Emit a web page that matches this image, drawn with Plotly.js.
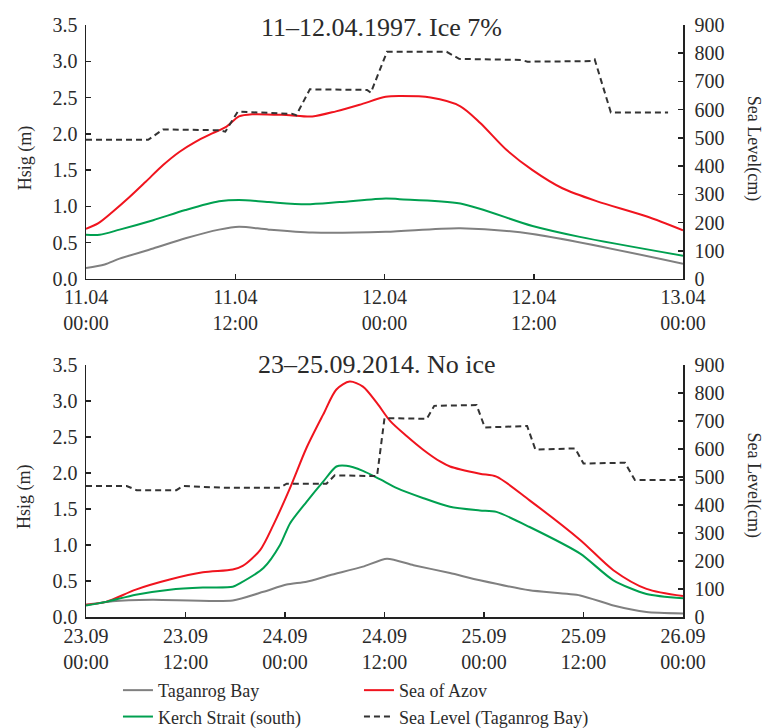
<!DOCTYPE html>
<html><head><meta charset="utf-8">
<script src="https://cdn.plot.ly/plotly-3.0.1.min.js"></script>
<style>html,body{margin:0;padding:0;background:#fff}#chart{width:766px;height:728px}</style>
</head><body><div id="chart"></div>
<script>
// ---------- Panel 1: 11–12.04.1997 (hours from 11.04 00:00) ----------
const p1TickVals = [0, 12, 24, 36, 48];
const p1TickText = ['11.04<br>00:00', '11.04<br>12:00', '12.04<br>00:00', '12.04<br>12:00', '13.04<br>00:00'];

const p1AzovHours = [0, 1.0, 2.1, 3.5, 4.8, 6.2, 7.5, 8.8, 10.2, 11.3, 12.3, 13.4, 16.1, 18.2, 20.1, 22.0, 24.1, 25.2, 27.7, 30.1, 31.7, 33.8, 35.9, 38.3, 41.1, 45.1, 48];
const p1Azov      = [0.69, 0.77, 0.92, 1.13, 1.34, 1.57, 1.75, 1.89, 2.01, 2.10, 2.24, 2.27, 2.26, 2.24, 2.31, 2.40, 2.51, 2.52, 2.50, 2.38, 2.15, 1.78, 1.50, 1.25, 1.07, 0.86, 0.67];

const p1KerchHours = [0, 1.1, 2.7, 5.4, 8.0, 10.7, 12.3, 14.7, 17.7, 20.4, 24.1, 25.2, 30.1, 35.9, 39.7, 48];
const p1Kerch      = [0.61, 0.61, 0.68, 0.81, 0.95, 1.07, 1.09, 1.06, 1.03, 1.06, 1.11, 1.10, 1.04, 0.73, 0.58, 0.32];

const p1TaganHours = [0, 1.5, 2.7, 5.4, 8.0, 10.7, 12.3, 14.7, 18.2, 24.1, 30.1, 35.9, 48];
const p1Tagan      = [0.15, 0.20, 0.28, 0.42, 0.56, 0.68, 0.72, 0.68, 0.64, 0.65, 0.70, 0.62, 0.21];

const p1LevelHours = [0, 5.0, 6.2, 10.7, 11.2, 12.2, 16.6, 16.9, 18.0, 22.6, 22.9, 24.2, 29.0, 30.0, 35.0, 35.5, 40.6, 40.9, 42.2, 46.8];
const p1Level      = [493, 493, 530, 527, 522, 593, 585, 580, 672, 670, 660, 805, 805, 780, 776, 770, 772, 778, 590, 590];

// ---------- Panel 2: 23–25.09.2014 (hours from 23.09 00:00) ----------
const p2TickVals = [0, 12, 24, 36, 48, 60, 72];
const p2TickText = ['23.09<br>00:00', '23.09<br>12:00', '24.09<br>00:00', '24.09<br>12:00', '25.09<br>00:00', '25.09<br>12:00', '26.09<br>00:00'];

const p2AzovHours = [0, 2.4, 6.0, 10.1, 14.1, 17.7, 18.9, 21.0, 22.6, 24.6, 26.6, 28.6, 30.2, 31.8, 33.4, 35.1, 36.7, 38.7, 40.7, 42.7, 43.9, 47.5, 49.5, 53.5, 59.6, 63.6, 67.6, 72];
const p2Azov      = [0.17, 0.21, 0.38, 0.52, 0.62, 0.66, 0.71, 0.93, 1.28, 1.79, 2.35, 2.81, 3.16, 3.27, 3.20, 2.97, 2.72, 2.51, 2.32, 2.16, 2.09, 1.99, 1.95, 1.62, 1.07, 0.65, 0.39, 0.29];

const p2KerchHours = [0, 2.4, 6.0, 10.1, 14.1, 17.7, 18.6, 21.4, 23.4, 24.6, 26.6, 28.6, 30.2, 31.4, 33.4, 35.5, 37.5, 40.7, 43.9, 47.5, 49.5, 53.5, 59.6, 63.6, 67.6, 72];
const p2Kerch      = [0.16, 0.21, 0.31, 0.38, 0.41, 0.42, 0.47, 0.68, 1.00, 1.30, 1.60, 1.88, 2.09, 2.10, 2.03, 1.91, 1.79, 1.65, 1.53, 1.48, 1.46, 1.25, 0.88, 0.51, 0.32, 0.26];

const p2TaganHours = [0, 3.2, 8.0, 17.7, 21.4, 24.2, 26.6, 29.4, 33.4, 36.3, 39.5, 43.9, 47.5, 53.5, 59.6, 63.6, 67.6, 72];
const p2Tagan      = [0.17, 0.22, 0.24, 0.23, 0.35, 0.45, 0.49, 0.58, 0.70, 0.81, 0.72, 0.61, 0.51, 0.37, 0.30, 0.16, 0.07, 0.05];

const p2LevelHours = [0, 4.9, 6.1, 10.9, 11.7, 16.2, 23.4, 24.2, 29.0, 30.0, 35.1, 36.0, 41.1, 42.0, 47.1, 48.1, 53.2, 54.2, 59.0, 60.0, 65.0, 66.2, 72];
const p2Level      = [468, 468, 453, 453, 468, 462, 462, 476, 476, 506, 503, 710, 708, 754, 757, 677, 682, 598, 602, 548, 551, 489, 489];

const seriesNames = ['Taganrog Bay', 'Sea of Azov', 'Kerch Strait (south)', 'Sea Level (Taganrog Bay)'];
const colors = {tagan: '#808080', azov: '#f0141e', kerch: '#00a050', level: '#333333'};

const FONT = 'Liberation Serif';
const TXT = '#2b2b2b';

function hs(x, y, name, color, xa, ya, show, smooth) {
  return {x: x, y: y, name: name, type: 'scatter', mode: 'lines', xaxis: xa, yaxis: ya,
    showlegend: show, line: {color: color, width: 2, shape: 'spline', smoothing: smooth}};
}
function lv(x, y, xa, ya, show) {
  return {x: x, y: y, name: seriesNames[3], type: 'scatter', mode: 'lines', xaxis: xa, yaxis: ya,
    showlegend: show, line: {color: colors.level, width: 2, dash: '6px,4px'}};
}

const data = [
  hs(p1TaganHours, p1Tagan, seriesNames[0], colors.tagan, 'x', 'y', true, 0.8),
  hs(p1AzovHours, p1Azov, seriesNames[1], colors.azov, 'x', 'y', true, 0.8),
  hs(p1KerchHours, p1Kerch, seriesNames[2], colors.kerch, 'x', 'y', true, 0.8),
  lv(p1LevelHours, p1Level, 'x', 'y2', true),
  hs(p2TaganHours, p2Tagan, seriesNames[0], colors.tagan, 'x2', 'y3', false, 0.6),
  hs(p2AzovHours, p2Azov, seriesNames[1], colors.azov, 'x2', 'y3', false, 0.8),
  hs(p2KerchHours, p2Kerch, seriesNames[2], colors.kerch, 'x2', 'y3', false, 0.7),
  lv(p2LevelHours, p2Level, 'x2', 'y4', false)
];

const axBase = {showline: true, linecolor: '#222', linewidth: 1.5, showgrid: false, zeroline: false,
  ticks: 'inside', ticklen: 5, tickwidth: 1.5, tickcolor: '#222',
  tickfont: {family: FONT, size: 20, color: TXT}};

const layout = {
  width: 766, height: 728,
  margin: {l: 86, r: 83, t: 25, b: 111},
  paper_bgcolor: '#fff', plot_bgcolor: '#fff',
  font: {family: FONT, color: TXT},
  showlegend: true,
  legend: {orientation: 'h', xref: 'container', yref: 'container', x: 0.154, xanchor: 'left', y: 0.077, yanchor: 'top',
    entrywidth: 196, entrywidthmode: 'pixels', tracegroupgap: 0,
    font: {family: FONT, size: 18, color: TXT}, bgcolor: 'rgba(0,0,0,0)'},
  xaxis: Object.assign({}, axBase, {domain: [0, 1], anchor: 'y', range: [0, 48],
    tickmode: 'array', tickvals: p1TickVals, ticktext: p1TickText}),
  yaxis: Object.assign({}, axBase, {domain: [0.571, 1], anchor: 'x', range: [0, 3.5], dtick: 0.5, tickformat: '.1f', ticklabelstandoff: 3}),
  yaxis2: Object.assign({}, axBase, {overlaying: 'y', side: 'right', anchor: 'x', range: [0, 900], dtick: 100, ticklabelstandoff: 6}),
  xaxis2: Object.assign({}, axBase, {domain: [0, 1], anchor: 'y3', range: [0, 72],
    tickmode: 'array', tickvals: p2TickVals, ticktext: p2TickText}),
  yaxis3: Object.assign({}, axBase, {domain: [0, 0.4257], anchor: 'x2', range: [0, 3.5], dtick: 0.5, tickformat: '.1f', ticklabelstandoff: 3}),
  yaxis4: Object.assign({}, axBase, {overlaying: 'y3', side: 'right', anchor: 'x2', range: [0, 900], dtick: 100, ticklabelstandoff: 6}),
  annotations: [
    {text: '11–12.04.1997. Ice 7%', xref: 'paper', yref: 'paper', x: 0.495, y: 0.9966, xanchor: 'center', yanchor: 'middle', showarrow: false, font: {family: FONT, size: 26, color: TXT}},
    {text: '23–25.09.2014. No ice', xref: 'paper', yref: 'paper', x: 0.487, y: 0.4257, xanchor: 'center', yanchor: 'middle', showarrow: false, font: {family: FONT, size: 26, color: TXT}},
    {text: 'Hsig (m)', xref: 'paper', yref: 'paper', x: -0.102, y: 0.775, xanchor: 'center', yanchor: 'middle', textangle: -90, showarrow: false, font: {family: FONT, size: 18, color: TXT}},
    {text: 'Hsig (m)', xref: 'paper', yref: 'paper', x: -0.102, y: 0.203, xanchor: 'center', yanchor: 'middle', textangle: -90, showarrow: false, font: {family: FONT, size: 18, color: TXT}},
    {text: 'Sea Level(cm)', xref: 'paper', yref: 'paper', x: 1.118, y: 0.792, xanchor: 'center', yanchor: 'middle', textangle: 90, showarrow: false, font: {family: FONT, size: 18, color: TXT}},
    {text: 'Sea Level(cm)', xref: 'paper', yref: 'paper', x: 1.118, y: 0.223, xanchor: 'center', yanchor: 'middle', textangle: 90, showarrow: false, font: {family: FONT, size: 18, color: TXT}}
  ]
};

Plotly.newPlot('chart', data, layout, {displayModeBar: false, staticPlot: true});
</script></body></html>
